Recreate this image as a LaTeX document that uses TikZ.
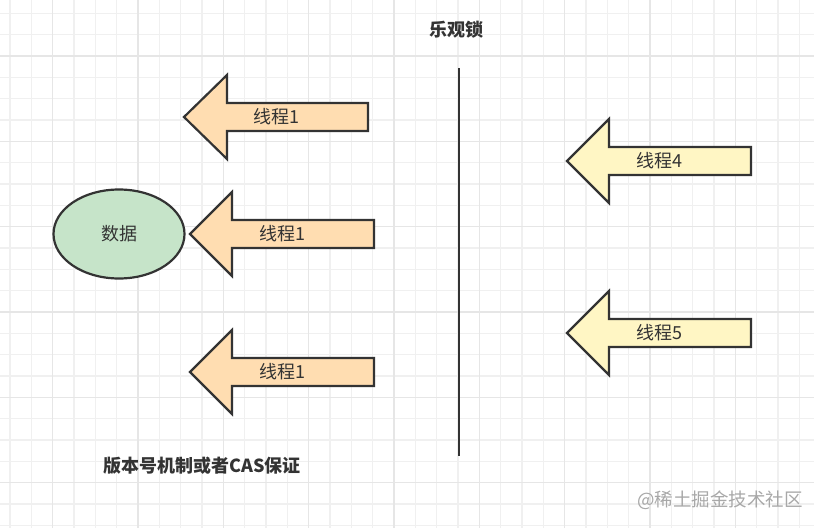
\documentclass[tikz,border=0pt]{standalone}
\usepackage{fontspec}
\usetikzlibrary{shapes.geometric}
\setmainfont{Noto Sans CJK SC}
\newfontfamily\cjk{Noto Sans CJK SC}
\definecolor{gridc}{HTML}{F0F0F0}
\definecolor{gridmaj}{HTML}{E6E6E6}
\definecolor{strokec}{HTML}{333333}
\definecolor{orangec}{HTML}{FFDDB1}
\definecolor{yellowc}{HTML}{FFF6C4}
\definecolor{greenc}{HTML}{C6E4C9}
\definecolor{wmc}{HTML}{A8A8A8}
\tikzset{
  fatarrow/.style={draw=strokec, line width=2.2pt, line join=miter},
  lbl/.style={font=\fontsize{18}{21}\selectfont\cjk, text=strokec, inner sep=0pt},
  boldlbl/.style={font=\fontsize{18}{21}\selectfont\cjk\bfseries, text=strokec, inner sep=0pt},
}
% #1 tip x, #2 y center, #3 head base x, #4 right x, #5 fill, #6 text, #7 name
\newcommand{\bigarrow}[7]{%
  \draw[fatarrow, fill=#5] (#1,#2) -- (#3,#2-42) -- (#3,#2-14) -- (#4,#2-14)
    -- (#4,#2+14) -- (#3,#2+14) -- (#3,#2+42) -- cycle;
  \node[lbl] (#7) at ({(#1+#4)/2},#2) {#6};
}
\begin{document}
\begin{tikzpicture}[x=1pt,y=-1pt]
\useasboundingbox (0,0) rectangle (814,528);
\fill[white] (0,0) rectangle (814,528);
% grid
\foreach \i in {0,...,38} {
  \draw[gridc, line width=1.1pt] ({10+21.333*\i},0) -- ({10+21.333*\i},528);
}
\foreach \j in {0,...,24} {
  \draw[gridc, line width=1.1pt] (0,{13.3+21.333*\j}) -- (814,{13.3+21.333*\j});
}
\foreach \i in {0,...,9} {
  \draw[gridmaj, line width=1.2pt] ({52.7+85.333*\i},0) -- ({52.7+85.333*\i},528);
}
\foreach \j in {0,...,5} {
  \draw[gridmaj, line width=1.2pt] (0,{56+85.333*\j}) -- (814,{56+85.333*\j});
}
% title
\node[boldlbl] (title) at (456,30) {乐观锁};
% divider
\coordinate (ltop) at (459,68);
\coordinate (lbot) at (459,456);
\draw[strokec, line width=2.6pt] (ltop) -- (lbot);
% data ellipse
\node[draw=strokec, line width=2.2pt, fill=greenc, ellipse, minimum width=131pt, minimum height=89pt, inner sep=0pt] (data) at (119,234) {};
\node[lbl] (datalbl) at (data.center) {数据};
% arrows
\bigarrow{184}{117}{227}{368}{orangec}{线程1}{t1a}
\bigarrow{190}{234}{232}{374}{orangec}{线程1}{t1b}
\bigarrow{190}{372}{232}{374}{orangec}{线程1}{t1c}
\bigarrow{567}{161}{609}{751}{yellowc}{线程4}{t4}
\bigarrow{567}{333}{609}{751}{yellowc}{线程5}{t5}
% bottom label
\node[boldlbl] (cas) at (202,466) {版本号机制或者CAS保证};
% watermark
\node[font=\fontsize{18.5}{21}\selectfont\cjk, text=wmc, inner sep=0pt] (wm) at (720,500) {@稀土掘金技术社区};
\end{tikzpicture}
\end{document}
